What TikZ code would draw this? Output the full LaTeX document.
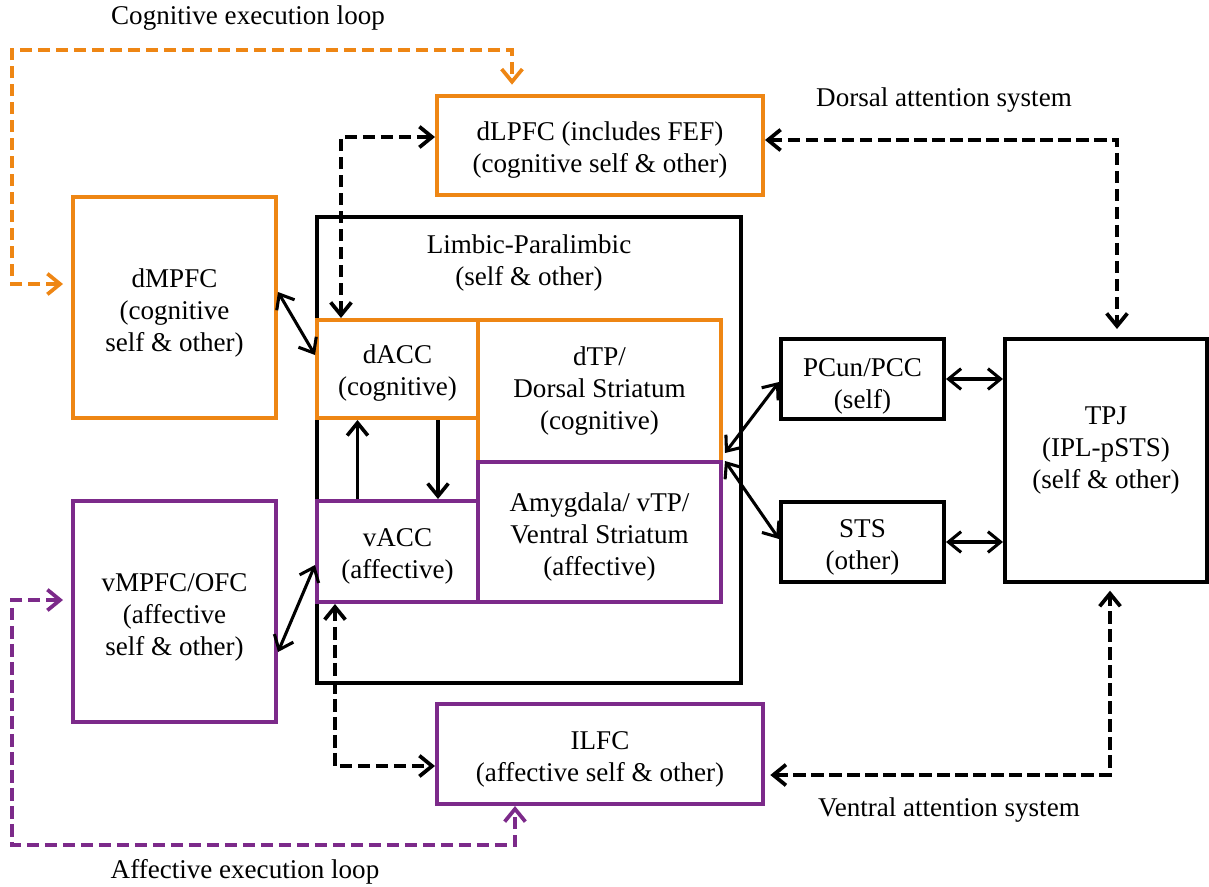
\documentclass[tikz,border=0pt]{standalone}
\usepackage{fontspec}
\setmainfont{Liberation Serif}
\usetikzlibrary{arrows.meta,calc}
\definecolor{orng}{RGB}{238,134,20}
\definecolor{purp}{RGB}{124,42,138}
\begin{document}
\begin{tikzpicture}[x=0.75pt,y=-0.75pt,
  every node/.style={font=\fontsize{20.3}{24}\selectfont},
  box/.style={draw, line width=3pt, inner sep=0pt},
  wh/.style 2 args={minimum width=#1*0.75pt, minimum height=#2*0.75pt},
  obox/.style={box, draw=orng},
  pbox/.style={box, draw=purp},
  kbox/.style={box, draw=black},
  txt/.style={align=center, inner sep=0pt},
  barb/.tip={Straight Barb[length=9.5pt,width=15.5pt]},
  sarrow/.style={line width=2.3pt, barb-barb},
  varrow/.style={line width=2.7pt, -barb},
  dline/.style={line width=2.8pt, dash pattern=on 9.5pt off 4pt, barb-barb}]
\useasboundingbox (0,0) rectangle (1209,886);

% Limbic-Paralimbic container
\node[kbox, wh={424}{466}] (limbic) at (529,450) {};
\node[txt] (limbicT) at (529,263) {Limbic-Paralimbic\\(self \& other)};

% orange boxes
\node[obox, wh={326}{99}] (dLPFC) at (600,145.5) {};
\node[obox, wh={203}{221}] (dMPFC) at (174.5,307.5) {};
\node[obox, wh={161}{98}] (dACC) at (397.5,369) {};
\node[obox, wh={243}{142}] (dTP) at (599.5,391) {};

% purple boxes
\node[pbox, wh={161}{101}] (vACC) at (397.5,551.5) {};
\node[pbox, wh={243}{140}] (Amyg) at (599.5,532) {};
\node[pbox, wh={203}{221}] (vMPFC) at (174.5,611.5) {};
\node[pbox, wh={326}{100}] (ILFC) at (600,754) {};

% black boxes
\node[kbox, wh={163}{80}] (PCun) at (862.5,379) {};
\node[kbox, wh={163}{80}] (STS) at (862.5,542) {};
\node[kbox, wh={202}{243}] (TPJ) at (1106,460.5) {};

% box texts
\node[txt] (dLPFCt) at (600,150) {dLPFC (includes FEF)\\(cognitive self \& other)};
\node[txt] (dMPFCt) at (174.5,313) {dMPFC\\(cognitive\\self \& other)};
\node[txt] (dACCt) at (397.5,373) {dACC\\(cognitive)};
\node[txt] (dTPt) at (599.5,391) {dTP/\\Dorsal Striatum\\(cognitive)};
\node[txt] (vACCt) at (397.5,556) {vACC\\(affective)};
\node[txt] (Amygt) at (599.5,537) {Amygdala/ vTP/\\Ventral Striatum\\(affective)};
\node[txt] (vMPFCt) at (174.5,617) {vMPFC/OFC\\(affective\\self \& other)};
\node[txt] (ILFCt) at (600,759) {ILFC\\(affective self \& other)};
\node[txt] (PCunt) at (862.5,386) {PCun/PCC\\(self)};
\node[txt] (STSt) at (862.5,547) {STS\\(other)};
\node[txt] (TPJt) at (1106,451) {TPJ\\(IPL-pSTS)\\(self \& other)};

% labels
\node (cogL) at (248,18) {Cognitive execution loop};
\node (dorL) at (944,100) {Dorsal attention system};
\node (venL) at (949,810) {Ventral attention system};
\node (affL) at (245,872) {Affective execution loop};

% solid connectors
\draw[sarrow] ($(dMPFC.east)+(0,-15.5)$) -- ($(dACC.west)+(0,-14)$);
\draw[sarrow] ($(vMPFC.east)+(0,40.5)$) -- ($(vACC.west)+(0,13.5)$);
\draw[varrow] ($(vACC.north)+(-40,0)$) -- ($(dACC.south)+(-40,0)$);
\draw[varrow] ($(dACC.south)+(40.5,0)$) -- ($(vACC.north)+(40.5,0)$);
\draw[sarrow] ($(dTP.south east)+(2,-11)$) -- ($(PCun.west)+(0,3)$);
\draw[sarrow] ($(Amyg.north east)+(2,1)$) -- ($(STS.west)+(0,-3)$);
\draw[sarrow] (PCun.east) -- (PCun.east -| TPJ.west);
\draw[sarrow] (STS.east) -- (STS.east -| TPJ.west);

% black dashed connectors
\draw[dline] ($(dACC.north west)+(26,0)$) |- ($(dLPFC.west)+(0,-8.5)$);
\draw[dline, shorten >=6pt] ($(dLPFC.east)+(0,-5.5)$) -| ($(TPJ.north)+(11,0)$);
\draw[dline] ($(vACC.south west)+(20,0)$) |- ($(ILFC.west)+(0,12)$);
\draw[dline, shorten <=4pt, shorten >=5pt] ($(ILFC.east)+(0,21)$) -| ($(TPJ.south)+(4,0)$);

% execution loops
\coordinate (ol1) at (12,284);
\coordinate (ol2) at (12,50);
\coordinate (ol3) at (512,50);
\draw[dline, draw=orng, shorten <=6pt, shorten >=7pt] (dMPFC.west |- ol1) -- (ol1) -- (ol2) -- (ol3) -- (ol3 |- dLPFC.north);

\coordinate (pl1) at (12,600);
\coordinate (pl2) at (12,845);
\coordinate (pl3) at (515,845);
\draw[dline, draw=purp, shorten <=6pt] (vMPFC.west |- pl1) -- (pl1) -- (pl2) -- (pl3) -- (pl3 |- ILFC.south);
\end{tikzpicture}
\end{document}
